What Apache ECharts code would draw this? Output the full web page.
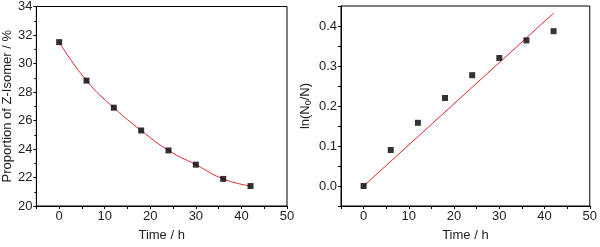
<!DOCTYPE html>
<html><head><meta charset="utf-8">
<script src="https://cdn.jsdelivr.net/npm/echarts@6/dist/echarts.min.js"></script>
<style>html,body{margin:0;padding:0;background:#fff}#c{width:600px;height:247px}</style>
</head><body><div id="c"></div>
<script>
const times = [0, 6, 12, 18, 24, 30, 36, 42];
const zIsomer = [31.5, 28.8, 26.9, 25.3, 23.9, 22.9, 21.9, 21.4];
const lnRatio = [0, 0.09, 0.158, 0.22, 0.277, 0.32, 0.364, 0.387];
const linFit = [[0, 0], [42, 0.432]];
const xTicks = [0, 10, 20, 30, 40, 50];

const font = 'Liberation Sans, Arial, sans-serif';
const chart = echarts.init(document.getElementById('c'));
const axisCommon = {
  axisLine: {show: true, onZero: false, lineStyle: {color: '#000', width: 1}},
  axisTick: {show: true, inside: false, length: 3, lineStyle: {color: '#000'}},
  splitLine: {show: false},
  axisLabel: {color: '#222', fontSize: 13, fontFamily: font, margin: 4},
  nameTextStyle: {color: '#222', fontSize: 13, fontFamily: font},
};
function xAxis(idx) {
  return Object.assign({}, axisCommon, {
    type: 'value', gridIndex: idx, min: -5, max: 50, interval: 5,
    name: 'Time / h', nameLocation: 'middle', nameGap: 23,
    axisLabel: Object.assign({}, axisCommon.axisLabel, {
      formatter: v => xTicks.indexOf(v) >= 0 ? String(v) : ''
    })
  });
}
chart.setOption({
  animation: false,
  grid: [
    {left: 34, right: 313, top: 6, bottom: 38, show: true, borderColor: '#000', borderWidth: 1},
    {left: 341, right: 7, top: 6, bottom: 38, show: true, borderColor: '#000', borderWidth: 1}
  ],
  xAxis: [xAxis(0), xAxis(1)],
  yAxis: [
    Object.assign({}, axisCommon, {
      type: 'value', gridIndex: 0, min: 20, max: 34, interval: 2,
      minorTick: {show: true, splitNumber: 2, length: 2, lineStyle: {color: '#000'}},
      name: 'Proportion of Z-Isomer / %', nameLocation: 'middle', nameGap: 21
    }),
    Object.assign({}, axisCommon, {
      type: 'value', gridIndex: 1, min: -0.05, max: 0.45, interval: 0.05,
      name: '{a|ln(N}{s|0}{a|/N)}', nameLocation: 'middle', nameGap: 28,
      nameTextStyle: {rich: {a: {fontSize: 13, fontFamily: font, color: '#222'}, s: {fontSize: 9, fontFamily: font, color: '#222', verticalAlign: 'bottom', padding: [6, 0, 0, 0]}}},
      axisLabel: Object.assign({}, axisCommon.axisLabel, {
        formatter: v => (Math.abs(Math.round(v * 100)) % 10 === 0) ? v.toFixed(1) : ''
      })
    })
  ],
  series: [
    {type: 'line', xAxisIndex: 0, yAxisIndex: 0, smooth: 0.5, showSymbol: false,
     data: times.map((t, i) => [t, zIsomer[i]]), lineStyle: {color: '#e0262b', width: 1}, z: 2},
    {type: 'scatter', xAxisIndex: 0, yAxisIndex: 0, symbol: 'rect', symbolSize: 6,
     data: times.map((t, i) => [t, zIsomer[i]]), itemStyle: {color: '#000'}, z: 3},
    {type: 'line', xAxisIndex: 1, yAxisIndex: 1, showSymbol: false,
     data: linFit, lineStyle: {color: '#e0262b', width: 1}, z: 2},
    {type: 'scatter', xAxisIndex: 1, yAxisIndex: 1, symbol: 'rect', symbolSize: 6,
     data: times.map((t, i) => [t, lnRatio[i]]), itemStyle: {color: '#000'}, z: 3}
  ]
});
</script></body></html>
